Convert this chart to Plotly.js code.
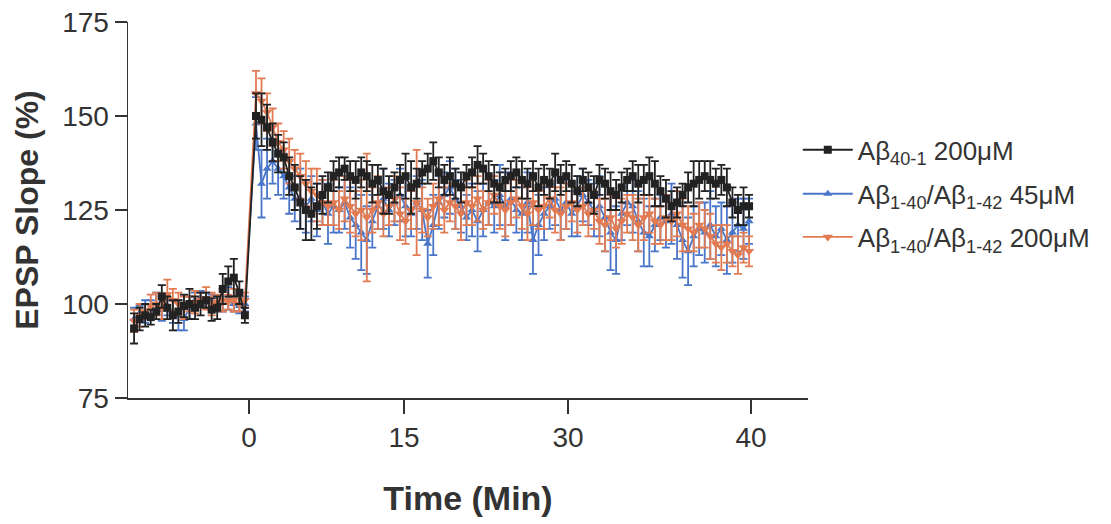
<!DOCTYPE html>
<html>
<head>
<meta charset="utf-8">
<script src="https://cdn.plot.ly/plotly-3.0.1.min.js"></script>
<style>html,body{margin:0;padding:0;background:#fff;}#chart{width:1111px;height:524px;}</style>
</head>
<body>
<div id="chart"></div>
<script>
// sample index (pre-baseline negative, post from 0)
const sampleIndex = [-22,-21,-20,-19,-18,-17,-16,-15,-14,-13,-12,-11,-10,-9,-8,-7,-6,-5,-4,-3,-2,
  0,1,2,3,4,5,6,7,8,9,10,11,12,13,14,15,16,17,18,19,20,21,22,23,24,25,26,27,28,29,
  30,31,32,33,34,35,36,37,38,39,40,41,42,43,44,45,46,47,48,49,50,51,52,53,54,55,56,57,58,59,
  60,61,62,63,64,65,66,67,68,69,70,71,72,73,74,75,76,77,78,79,80,81,82,83,84,85,86,87,88,89];

// tick labels (Time, Min) and their positions in sample units
const tickLabels = ["0","15","30","40"];
const tickPositions = [-1.26, 26.72, 56.32, 89.35];

const seriesNames = ["Aβ<sub>40-1</sub> 200μM", "Aβ<sub>1-40</sub>/Aβ<sub>1-42</sub> 45μM", "Aβ<sub>1-40</sub>/Aβ<sub>1-42</sub> 200μM"];

const ctrlMean = [93.5,96,97,96.5,98,102,99,97,98,99.5,100,99,100,101,98.5,99,104,106,107,103,97,
  150,149,147,143,140,139,134,131,127,125,124,126,129,131,134,135,136,134,133,135,
  134,132,133,130,129,131,133,134,131,132,135,136,138,135,133,134,132,131,134,135,
  137,136,134,132,131,133,134,135,133,132,134,131,133,132,135,133,134,132,130,133,
  131,129,133,132,130,129,131,133,134,132,133,134,132,130,128,126,127,129,131,132,
  133,134,133,132,133,131,127,125,126,126];
const ctrlErr = [4,3,3,2,2,3,3,4,3,3,4,3,3,2,3,3,4,4,5,3,2,
  6,7,6,5,5,4,5,6,7,8,7,6,5,4,4,4,3,4,5,4,4,5,4,6,5,4,4,6,7,4,3,4,5,4,4,5,4,4,3,4,
  5,4,4,5,4,3,4,4,5,4,4,5,4,4,5,4,4,5,4,3,4,5,4,4,5,4,4,3,4,5,4,5,6,4,5,4,4,3,4,6,
  5,4,5,4,4,5,4,4,5,3];

const low45Mean = [96,97.5,98,99,100,98.5,99,98,97,96,99,101,101.5,101,100.5,100,101,101.5,100,99.5,100,
  148,132,136,138,136,134,131,128,128,126,128,125,127,124,126,125,127,123,121,119,
  117,122,126,128,125,127,129,126,124,127,125,116,121,127,129,131,128,126,123,125,
  122,125,127,126,129,126,128,125,124,127,117,121,124,126,128,125,127,124,126,129,
  127,125,126,123,119,117,124,127,126,122,119,118,121,123,122,124,121,117,114,118,
  120,119,121,118,120,117,119,121,120,122];
const low45Err = [3,2,3,2,3,3,2,3,4,3,3,2,2,2,2,2,3,3,2,2,2,
  7,9,8,6,7,6,7,6,8,7,6,7,6,8,7,6,7,8,9,10,9,7,6,8,7,6,7,8,6,7,8,9,8,7,6,7,8,7,6,7,
  8,7,6,7,8,9,7,6,7,8,9,8,7,6,7,8,7,6,8,7,6,7,8,9,10,9,7,6,7,8,9,8,7,6,7,8,9,10,9,8,
  7,8,9,8,7,9,8,7,8,6];

const high200Mean = [95.5,97,98,99.5,100,99,102.5,101,100,99,100,100.5,101,101.5,100,100.5,101,100.5,101,100,101,
  156,154,151,147,143,141,138,136,134,132,130,129,127,126,127,125,128,126,124,125,
  123,125,127,124,126,128,124,122,125,127,125,123,126,128,125,127,126,124,127,126,
  128,125,127,129,126,125,127,128,126,124,127,125,126,128,125,124,126,127,125,126,
  124,125,122,121,123,120,122,124,123,121,123,124,122,121,123,122,124,121,120,119,
  121,120,118,116,115,116,114,113,115,114];
const high200Err = [3,3,2,3,3,3,4,3,3,3,2,3,2,3,3,2,3,2,3,2,2,
  6,6,5,5,5,5,6,5,6,6,6,7,6,5,6,5,6,7,6,8,17,6,7,6,5,6,7,6,5,14,6,5,6,7,6,5,6,7,6,5,
  6,5,6,5,6,7,6,5,6,7,6,5,6,5,6,7,6,5,6,5,6,5,6,7,6,5,6,5,6,7,6,5,6,5,6,5,6,7,6,5,
  6,5,6,5,6,5,4,5,4,4];

const colBlack = "#222222", colBlue = "#4a76c9", colOrange = "#e27b52";

function tr(y, err, name, color, symbol, size, legendId) {
  return {
    x: sampleIndex, y: y, name: name, type: "scatter", mode: "lines+markers",
    line: {color: color, width: 1.8},
    marker: {symbol: symbol, size: size, color: color},
    error_y: {type: "data", array: err, visible: true, color: color, thickness: 1.8, width: 4},
    legend: legendId
  };
}

const data = [
  tr(low45Mean, low45Err, seriesNames[1], colBlue, "triangle-up", 8, "legend2"),
  tr(high200Mean, high200Err, seriesNames[2], colOrange, "triangle-down", 9, "legend3"),
  tr(ctrlMean, ctrlErr, seriesNames[0], colBlack, "square", 8, "legend")
];

const legFont = {family: "Arial, Liberation Sans, sans-serif", size: 26, color: "#333"};
function leg(yc) {
  return {x: 0.985, xanchor: "left", y: yc, yanchor: "middle", itemwidth: 50,
    font: legFont, bgcolor: "rgba(0,0,0,0)"};
}

const tickFont = {family: "Arial, Liberation Sans, sans-serif", size: 28, color: "#333"};
const layout = {
  width: 1111, height: 524,
  margin: {l: 128, r: 303, t: 22, b: 126},
  paper_bgcolor: "#ffffff", plot_bgcolor: "#ffffff",
  showlegend: true,
  legend: leg(0.660),
  legend2: leg(0.543),
  legend3: leg(0.428),
  xaxis: {
    range: [-23.1, 99.64], showgrid: false, zeroline: false,
    showline: true, linecolor: "#333", linewidth: 1.5,
    ticks: "outside", ticklen: 14, tickwidth: 1.5, tickcolor: "#333",
    tickmode: "array", tickvals: tickPositions, ticktext: tickLabels,
    tickfont: tickFont,
    title: {text: "Time (Min)", font: {family: "Arial, Liberation Sans, sans-serif", size: 34, color: "#333", weight: "bold"}, standoff: 34}
  },
  yaxis: {
    range: [75, 175], showgrid: false, zeroline: false,
    showline: true, linecolor: "#333", linewidth: 1.5,
    ticks: "outside", ticklen: 12, tickwidth: 1.5, tickcolor: "#333",
    tickmode: "array", tickvals: [75,100,125,150,175],
    tickfont: tickFont,
    title: {text: "EPSP Slope (%)", font: {family: "Arial, Liberation Sans, sans-serif", size: 32, color: "#333", weight: "bold"}, standoff: 14}
  }
};

Plotly.newPlot("chart", data, layout, {displayModeBar: false, staticPlot: true});
</script>
</body>
</html>
